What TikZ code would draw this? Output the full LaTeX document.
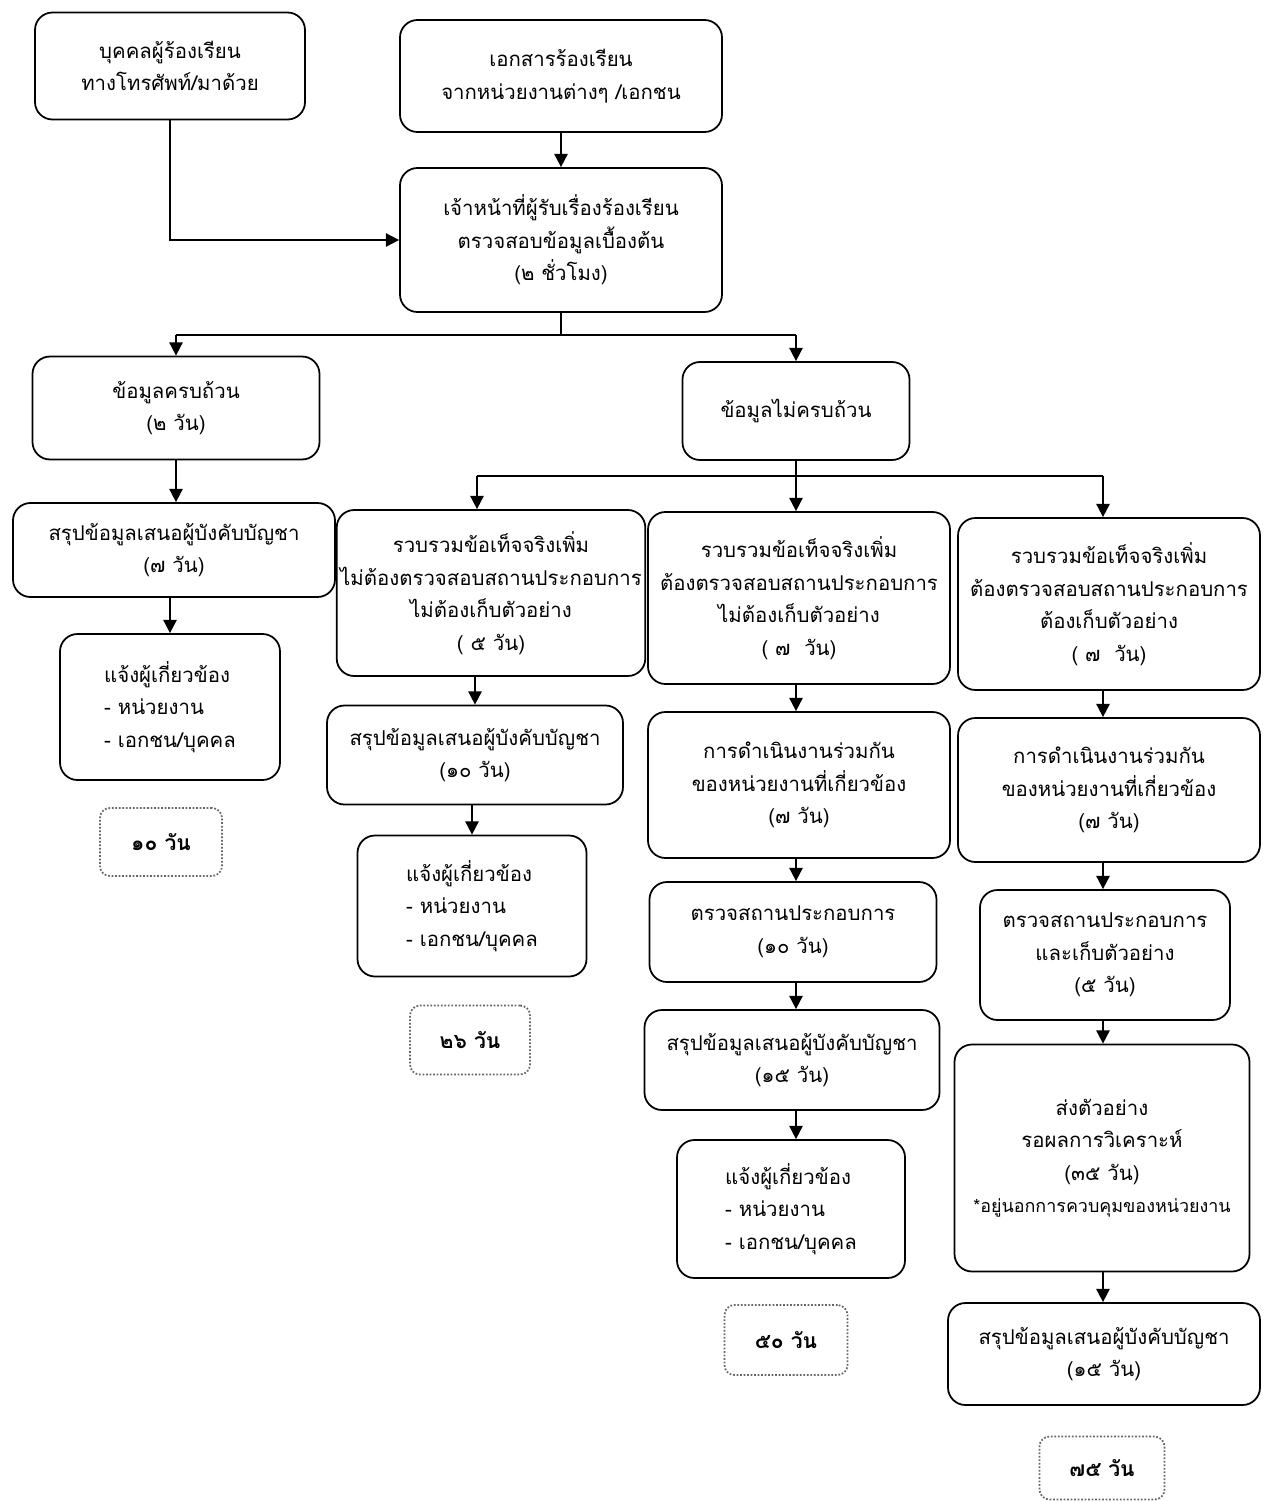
\documentclass[tikz,border=0pt]{standalone}
\usepackage{fontspec}
\setmainfont[Script=Thai]{Loma}
\usetikzlibrary{arrows.meta}

\begin{document}
\begin{tikzpicture}[x=0.02cm, y=-0.02cm,
    box/.style={draw=black, line width=1pt, rounded corners=0.35cm,
                align=center, inner sep=2pt,
                font=\fontsize{11.6}{18.5}\selectfont},
    total/.style={draw=black!60, densely dotted, line width=1pt,
                  rounded corners=0.2cm,
                  font=\fontsize{12}{18}\selectfont\bfseries},
    bsize/.style 2 args={minimum width=#1*0.02cm, minimum height=#2*0.02cm},
    arr/.style={line width=1pt, -{Triangle[width=7.5pt, length=7.5pt]}},
    link/.style={line width=1pt}]
    \useasboundingbox (0, 0) rectangle (1268, 1501);

    % top
    \draw (170, 66) node [box, bsize={270}{107}] (caller)
          {บุคคลผู้ร้องเรียน\\ทางโทรศัพท์/มาด้วย};
    \draw (561, 76) node [box, bsize={322}{112}] (doc)
          {เอกสารร้องเรียน\\จากหน่วยงานต่างๆ /เอกชน};
    \draw (561, 240) node [box, bsize={322}{144}] (officer)
          {เจ้าหน้าที่ผู้รับเรื่องร้องเรียน\\ตรวจสอบข้อมูลเบื้องต้น\\(๒ ชั่วโมง)};

    % complete data
    \draw (176, 408) node [box, bsize={287}{103}] (complete)
          {ข้อมูลครบถ้วน\\(๒ วัน)};
    \draw (796, 411) node [box, bsize={227}{98}] (incomplete)
          {ข้อมูลไม่ครบถ้วน};
    \draw (174, 550) node [box, bsize={322}{94}] (sumL)
          {สรุปข้อมูลเสนอผู้บังคับบัญชา\\(๗ วัน)};
    \draw (170, 707) node [box, align=left, bsize={220}{146}] (notifyL)
          {แจ้งผู้เกี่ยวข้อง\\- หน่วยงาน\\- เอกชน/บุคคล};
    \draw (161, 842) node [total, bsize={122}{68}] (totL) {๑๐ วัน};

    % column A
    \draw (491, 593) node [box, bsize={302}{166}] (collectA)
          {รวบรวมข้อเท็จจริงเพิ่ม\\ไม่ต้องตรวจสอบสถานประกอบการ\\ไม่ต้องเก็บตัวอย่าง\\( ๕ วัน)};
    \draw (475, 755) node [box, bsize={296}{99}] (sumA)
          {สรุปข้อมูลเสนอผู้บังคับบัญชา\\(๑๐ วัน)};
    \draw (472, 906) node [box, align=left, bsize={229}{141}] (notifyA)
          {แจ้งผู้เกี่ยวข้อง\\- หน่วยงาน\\- เอกชน/บุคคล};
    \draw (470, 1040) node [total, bsize={120}{69}] (totA) {๒๖ วัน};

    % column B
    \draw (799, 598) node [box, bsize={302}{172}] (collectB)
          {รวบรวมข้อเท็จจริงเพิ่ม\\ต้องตรวจสอบสถานประกอบการ\\ไม่ต้องเก็บตัวอย่าง\\( ๗~ วัน)};
    \draw (799, 785) node [box, bsize={302}{146}] (jointB)
          {การดำเนินงานร่วมกัน\\ของหน่วยงานที่เกี่ยวข้อง\\(๗ วัน)};
    \draw (793, 932) node [box, bsize={287}{100}] (inspectB)
          {ตรวจสถานประกอบการ\\(๑๐ วัน)};
    \draw (792, 1060) node [box, bsize={295}{100}] (sumB)
          {สรุปข้อมูลเสนอผู้บังคับบัญชา\\(๑๕ วัน)};
    \draw (791, 1209) node [box, align=left, bsize={228}{138}] (notifyB)
          {แจ้งผู้เกี่ยวข้อง\\- หน่วยงาน\\- เอกชน/บุคคล};
    \draw (786, 1340) node [total, bsize={123}{70}] (totB) {๕๐ วัน};

    % column C
    \draw (1109, 604) node [box, bsize={302}{172}] (collectC)
          {รวบรวมข้อเท็จจริงเพิ่ม\\ต้องตรวจสอบสถานประกอบการ\\ต้องเก็บตัวอย่าง\\( ๗~ วัน)};
    \draw (1109, 790) node [box, bsize={302}{144}] (jointC)
          {การดำเนินงานร่วมกัน\\ของหน่วยงานที่เกี่ยวข้อง\\(๗ วัน)};
    \draw (1105, 955) node [box, bsize={250}{130}] (inspectC)
          {ตรวจสถานประกอบการ\\และเก็บตัวอย่าง\\(๕ วัน)};
    \draw (1102, 1158) node [box, bsize={295}{227}] (sendC)
          {ส่งตัวอย่าง\\รอผลการวิเคราะห์\\(๓๕ วัน)\\{\fontsize{10.2}{16}\selectfont *อยู่นอกการควบคุมของหน่วยงาน}};
    \draw (1104, 1354) node [box, bsize={312}{102}] (sumC)
          {สรุปข้อมูลเสนอผู้บังคับบัญชา\\(๑๕ วัน)};
    \draw (1102, 1468) node [total, bsize={125}{63}] (totC) {๗๕ วัน};

    % branch points
    \coordinate (split) at (561, 335);
    \coordinate (splitA) at (477, 476);
    \coordinate (splitB) at (796, 476);
    \coordinate (splitC) at (1103, 476);

    \draw [arr] (doc) -- (officer);
    \draw [arr] (caller.south) |- (officer.west);
    \draw [link] (officer.south) -- (split);
    \draw [link] (split -| complete) -- (split -| incomplete);
    \draw [arr] (split -| complete) -- (complete.north);
    \draw [arr] (split -| incomplete) -- (incomplete.north);

    \draw [arr] (complete.south) -- (complete.south |- sumL.north);
    \draw [arr] (sumL.south -| notifyL) -- (notifyL.north);

    \draw [link] (incomplete.south) -- (splitB);
    \draw [link] (splitA) -- (splitC);
    \draw [arr] (splitA) -- (splitA |- collectA.north);
    \draw [arr] (splitB) -- (splitB |- collectB.north);
    \draw [arr] (splitC) -- (splitC |- collectC.north);

    \draw [arr] (collectA.south -| sumA) -- (sumA.north);
    \draw [arr] (sumA.south -| notifyA) -- (notifyA.north);

    \draw [arr] (collectB.south -| splitB) -- (splitB |- jointB.north);
    \draw [arr] (jointB.south -| splitB) -- (splitB |- inspectB.north);
    \draw [arr] (inspectB.south -| splitB) -- (splitB |- sumB.north);
    \draw [arr] (sumB.south -| splitB) -- (splitB |- notifyB.north);

    \draw [arr] (collectC.south -| splitC) -- (splitC |- jointC.north);
    \draw [arr] (jointC.south -| splitC) -- (splitC |- inspectC.north);
    \draw [arr] (inspectC.south -| splitC) -- (splitC |- sendC.north);
    \draw [arr] (sendC.south -| splitC) -- (splitC |- sumC.north);
\end{tikzpicture}
\end{document}
